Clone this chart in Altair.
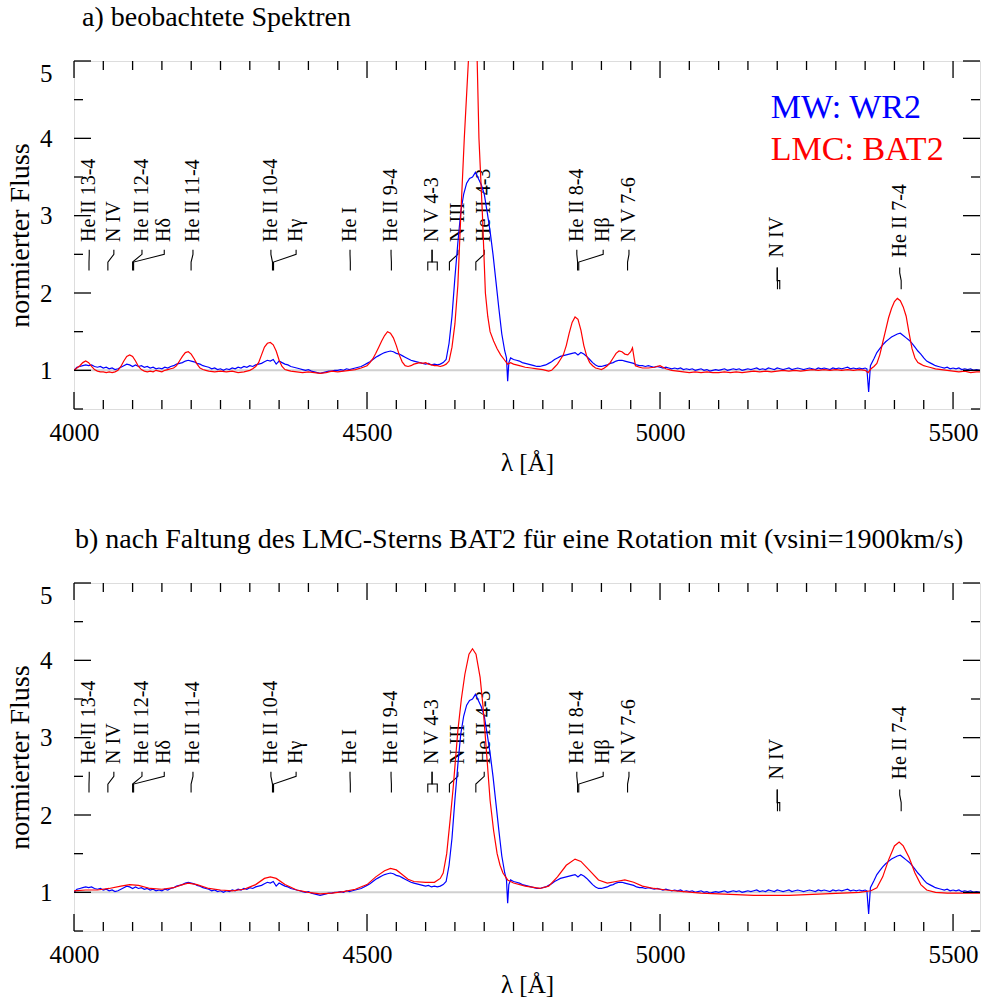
import altair as alt
import pandas as pd

SERIF = "Liberation Serif"
PLOT_W, PLOT_H = 906, 348
WL_RANGE = [4000, 5546]
FLUX_RANGE = [0.5, 5.0]

# ---------------------------------------------------------------- spectra
# MW: WR2, normalised flux (wavelength in Angstrom, flux)
wr2 = [
    (4000, 1.00), (4005, 1.04), (4010, 1.05), (4015, 1.06), (4020, 1.07), (4025, 1.06),
    (4030, 1.07), (4035, 1.05), (4040, 1.04), (4045, 1.05), (4050, 1.03), (4055, 1.04),
    (4060, 1.02), (4065, 1.03), (4070, 1.01), (4075, 1.02), (4080, 1.04), (4085, 1.06),
    (4090, 1.08), (4095, 1.07), (4100, 1.05), (4105, 1.07), (4110, 1.05), (4115, 1.06),
    (4120, 1.04), (4125, 1.05), (4130, 1.03), (4135, 1.04), (4140, 1.02), (4145, 1.03),
    (4150, 1.02), (4155, 1.04), (4160, 1.03), (4165, 1.05), (4170, 1.06), (4175, 1.08),
    (4180, 1.09), (4185, 1.10), (4190, 1.12), (4195, 1.13), (4200, 1.12), (4205, 1.11),
    (4210, 1.09), (4215, 1.08), (4220, 1.06), (4225, 1.05), (4230, 1.04), (4235, 1.02),
    (4240, 1.03), (4245, 1.01), (4250, 1.02), (4255, 1.00), (4260, 1.02), (4265, 1.01),
    (4270, 1.03), (4275, 1.02), (4280, 1.04), (4285, 1.03), (4290, 1.05), (4295, 1.04),
    (4300, 1.06), (4305, 1.05), (4310, 1.07), (4315, 1.08), (4320, 1.09), (4325, 1.11),
    (4330, 1.13), (4335, 1.12), (4340, 1.14), (4345, 1.08), (4350, 1.12), (4355, 1.10),
    (4360, 1.08), (4365, 1.07), (4370, 1.05), (4375, 1.04), (4380, 1.03), (4385, 1.02),
    (4390, 1.01), (4395, 1.00), (4400, 1.01), (4405, 0.99), (4410, 0.98), (4415, 0.97),
    (4420, 0.96), (4425, 0.97), (4430, 0.98), (4435, 0.99), (4440, 0.99), (4445, 1.00),
    (4450, 1.00), (4455, 1.01), (4460, 1.00), (4465, 1.02), (4470, 1.01), (4475, 1.02),
    (4480, 1.03), (4485, 1.04), (4490, 1.05), (4495, 1.07), (4500, 1.09), (4505, 1.11),
    (4510, 1.14), (4515, 1.17), (4520, 1.19), (4525, 1.21), (4530, 1.23), (4535, 1.24),
    (4540, 1.25), (4545, 1.24), (4550, 1.22), (4555, 1.21), (4560, 1.19), (4565, 1.17),
    (4570, 1.15), (4575, 1.13), (4580, 1.12), (4585, 1.11), (4590, 1.10), (4595, 1.09),
    (4600, 1.08), (4605, 1.09), (4610, 1.07), (4615, 1.08), (4620, 1.07), (4625, 1.08),
    (4630, 1.10), (4635, 1.14), (4640, 1.35), (4645, 1.70), (4650, 2.20), (4655, 2.65),
    (4660, 3.05), (4665, 3.28), (4670, 3.42), (4675, 3.48), (4680, 3.50), (4685, 3.56),
    (4690, 3.48), (4695, 3.40), (4700, 3.28), (4705, 3.05), (4710, 2.80), (4715, 2.50),
    (4720, 2.15), (4725, 1.80), (4730, 1.47), (4735, 1.25), (4738, 1.16), (4740, 0.86),
    (4742, 1.10), (4745, 1.16), (4750, 1.14), (4755, 1.13), (4760, 1.12), (4765, 1.10),
    (4770, 1.09), (4775, 1.08), (4780, 1.07), (4785, 1.06), (4790, 1.05), (4795, 1.05),
    (4800, 1.06), (4805, 1.07), (4810, 1.09), (4815, 1.11), (4820, 1.14), (4825, 1.16),
    (4830, 1.18), (4835, 1.19), (4840, 1.20), (4845, 1.21), (4850, 1.22), (4855, 1.23),
    (4860, 1.20), (4865, 1.23), (4870, 1.21), (4875, 1.18), (4880, 1.14), (4885, 1.10),
    (4890, 1.07), (4895, 1.05), (4900, 1.05), (4905, 1.06), (4910, 1.07), (4915, 1.09),
    (4920, 1.10), (4925, 1.12), (4930, 1.13), (4935, 1.13), (4940, 1.12), (4945, 1.11),
    (4950, 1.10), (4955, 1.09), (4960, 1.07), (4965, 1.06), (4970, 1.06), (4975, 1.05),
    (4980, 1.06), (4985, 1.05), (4990, 1.04), (4995, 1.05), (5000, 1.04), (5005, 1.03),
    (5010, 1.04), (5015, 1.03), (5020, 1.02), (5025, 1.03), (5030, 1.02), (5035, 1.03),
    (5040, 1.01), (5045, 1.02), (5050, 1.01), (5055, 1.02), (5060, 1.00), (5065, 1.01),
    (5070, 1.02), (5075, 1.00), (5080, 1.01), (5085, 0.99), (5090, 1.00), (5095, 1.01),
    (5100, 1.00), (5105, 1.01), (5110, 1.02), (5115, 1.00), (5120, 1.01), (5125, 1.02),
    (5130, 1.01), (5135, 1.02), (5140, 1.00), (5145, 1.01), (5150, 1.02), (5155, 1.01),
    (5160, 1.02), (5165, 1.03), (5170, 1.01), (5175, 1.02), (5180, 1.01), (5185, 1.03),
    (5190, 1.02), (5195, 1.01), (5200, 1.03), (5205, 1.02), (5210, 1.01), (5215, 1.02),
    (5220, 1.03), (5225, 1.01), (5230, 1.02), (5235, 1.03), (5240, 1.02), (5245, 1.01),
    (5250, 1.02), (5255, 1.03), (5260, 1.02), (5265, 1.01), (5270, 1.03), (5275, 1.02),
    (5280, 1.03), (5285, 1.02), (5290, 1.01), (5295, 1.03), (5300, 1.02), (5305, 1.03),
    (5310, 1.02), (5315, 1.03), (5320, 1.04), (5325, 1.02), (5330, 1.03), (5335, 1.02),
    (5340, 1.03), (5345, 1.02), (5350, 1.03), (5353, 1.02), (5356, 0.72), (5359, 1.06),
    (5365, 1.15), (5370, 1.23), (5375, 1.28), (5380, 1.33), (5385, 1.37), (5390, 1.40),
    (5395, 1.43), (5400, 1.45), (5405, 1.47), (5410, 1.48), (5415, 1.45), (5420, 1.42),
    (5425, 1.39), (5430, 1.35), (5435, 1.30), (5440, 1.25), (5445, 1.21), (5450, 1.16),
    (5455, 1.12), (5460, 1.10), (5465, 1.08), (5470, 1.06), (5475, 1.05), (5480, 1.04),
    (5485, 1.03), (5490, 1.04), (5495, 1.02), (5500, 1.03), (5505, 1.02), (5510, 1.03),
    (5515, 1.01), (5520, 1.02), (5525, 1.01), (5530, 1.02), (5535, 1.00), (5540, 1.01),
    (5546, 1.00),
]

# LMC: BAT2, observed
bat2 = [
    (4000, 1.00), (4005, 1.03), (4010, 1.06), (4015, 1.10), (4020, 1.12), (4025, 1.10),
    (4030, 1.05), (4035, 1.01), (4040, 0.99), (4045, 0.98), (4050, 0.98), (4055, 0.97),
    (4060, 0.98), (4065, 0.97), (4070, 0.98), (4075, 1.00), (4080, 1.05), (4085, 1.12),
    (4090, 1.18), (4095, 1.20), (4100, 1.18), (4105, 1.12), (4110, 1.05), (4115, 1.01),
    (4120, 0.99), (4125, 0.98), (4130, 0.99), (4135, 0.98), (4140, 1.00), (4145, 0.99),
    (4150, 0.98), (4155, 1.00), (4160, 1.01), (4165, 1.02), (4170, 1.03), (4175, 1.06),
    (4180, 1.12), (4185, 1.18), (4190, 1.23), (4195, 1.24), (4200, 1.21), (4205, 1.15),
    (4210, 1.08), (4215, 1.03), (4220, 1.01), (4225, 1.00), (4230, 0.99), (4240, 0.98),
    (4250, 0.99), (4260, 0.98), (4270, 0.99), (4280, 0.97), (4290, 0.98), (4300, 1.00),
    (4305, 1.02), (4310, 1.05), (4315, 1.10), (4320, 1.20), (4325, 1.30), (4330, 1.35),
    (4335, 1.36), (4340, 1.33), (4345, 1.25), (4350, 1.13), (4355, 1.05), (4360, 1.01),
    (4365, 1.00), (4370, 0.99), (4380, 0.98), (4390, 0.97), (4400, 0.98), (4410, 0.97),
    (4420, 0.96), (4430, 0.97), (4440, 0.99), (4450, 0.98), (4460, 0.99), (4470, 1.00),
    (4480, 1.01), (4490, 1.03), (4500, 1.06), (4505, 1.10), (4510, 1.15), (4515, 1.22),
    (4520, 1.30), (4525, 1.38), (4530, 1.45), (4535, 1.50), (4540, 1.48), (4545, 1.42),
    (4550, 1.32), (4555, 1.20), (4560, 1.11), (4565, 1.06), (4570, 1.05), (4575, 1.06),
    (4580, 1.08), (4585, 1.09), (4590, 1.10), (4595, 1.09), (4600, 1.10), (4605, 1.08),
    (4610, 1.07), (4615, 1.06), (4620, 1.06), (4625, 1.05), (4630, 1.06), (4635, 1.08),
    (4640, 1.12), (4645, 1.30), (4650, 1.60), (4655, 2.10), (4660, 3.00), (4666, 4.00),
    (4673, 5.00), (4680, 5.60), (4688, 5.00), (4691, 4.00), (4697, 3.00), (4702, 2.00),
    (4706, 1.70), (4710, 1.50), (4716, 1.38), (4722, 1.28), (4728, 1.20), (4734, 1.14),
    (4740, 1.08), (4745, 1.10), (4750, 1.08), (4760, 1.06), (4770, 1.04), (4780, 1.03),
    (4790, 1.02), (4800, 1.01), (4805, 1.00), (4810, 0.99), (4815, 1.00), (4820, 1.04),
    (4825, 1.08), (4830, 1.14), (4835, 1.20), (4840, 1.32), (4845, 1.48), (4850, 1.62),
    (4855, 1.69), (4860, 1.66), (4865, 1.52), (4870, 1.32), (4875, 1.18), (4880, 1.10),
    (4885, 1.06), (4890, 1.03), (4895, 1.02), (4900, 1.01), (4905, 1.03), (4910, 1.06),
    (4915, 1.10), (4920, 1.16), (4925, 1.22), (4930, 1.25), (4935, 1.24), (4940, 1.21),
    (4945, 1.20), (4950, 1.24), (4953, 1.29), (4956, 1.15), (4958, 1.06), (4965, 1.04),
    (4970, 1.03), (4980, 1.03), (4990, 1.04), (5000, 1.06), (5005, 1.04), (5010, 1.02),
    (5020, 1.00), (5030, 0.99), (5040, 0.98), (5050, 0.97), (5060, 0.98), (5070, 0.97),
    (5080, 0.98), (5090, 0.97), (5100, 0.97), (5110, 0.98), (5120, 0.97), (5130, 0.98),
    (5140, 0.97), (5150, 0.98), (5160, 0.99), (5170, 0.98), (5180, 0.99), (5190, 0.98),
    (5200, 0.99), (5210, 1.00), (5220, 0.99), (5230, 1.00), (5240, 0.99), (5250, 1.00),
    (5260, 1.01), (5270, 1.00), (5280, 1.01), (5290, 1.00), (5300, 1.01), (5310, 1.00),
    (5320, 1.01), (5330, 1.00), (5340, 1.01), (5350, 1.00), (5355, 0.97), (5360, 1.02),
    (5365, 1.05), (5370, 1.09), (5375, 1.20), (5380, 1.36), (5385, 1.52), (5390, 1.68),
    (5395, 1.80), (5400, 1.89), (5405, 1.93), (5410, 1.90), (5415, 1.82), (5420, 1.70),
    (5425, 1.48), (5430, 1.28), (5435, 1.16), (5440, 1.10), (5445, 1.08), (5450, 1.06),
    (5455, 1.05), (5460, 1.04), (5470, 1.02), (5480, 1.01), (5490, 1.00), (5500, 0.99),
    (5510, 0.98), (5520, 0.99), (5530, 0.97), (5540, 0.98), (5546, 0.98),
]

# LMC: BAT2 after rotational convolution (vsini = 1900 km/s)
bat2_rot = [
    (4000, 1.02), (4020, 1.03), (4040, 1.03), (4060, 1.05), (4080, 1.08), (4095, 1.10),
    (4110, 1.09), (4130, 1.05), (4150, 1.04), (4170, 1.06), (4185, 1.10), (4195, 1.12),
    (4210, 1.10), (4230, 1.05), (4250, 1.03), (4270, 1.02), (4290, 1.04), (4310, 1.10),
    (4325, 1.18), (4335, 1.20), (4345, 1.18), (4360, 1.10), (4380, 1.03), (4400, 1.00),
    (4420, 0.98), (4440, 0.99), (4460, 1.01), (4480, 1.04), (4500, 1.10), (4515, 1.20),
    (4530, 1.28), (4540, 1.31), (4550, 1.29), (4560, 1.23), (4570, 1.17), (4580, 1.14),
    (4600, 1.13), (4615, 1.13), (4625, 1.18), (4630, 1.25), (4636, 1.50), (4642, 1.95),
    (4647, 2.35), (4655, 3.09), (4661, 3.50), (4667, 3.82), (4674, 4.08), (4680, 4.15),
    (4686, 4.08), (4693, 3.78), (4698, 3.40), (4702, 3.00), (4706, 2.60), (4710, 2.19),
    (4716, 1.80), (4722, 1.50), (4727, 1.35), (4732, 1.25), (4740, 1.16), (4750, 1.12),
    (4770, 1.08), (4795, 1.05), (4810, 1.08), (4825, 1.20), (4840, 1.35), (4855, 1.43),
    (4865, 1.40), (4880, 1.28), (4895, 1.16), (4910, 1.12), (4925, 1.14), (4940, 1.16),
    (4955, 1.13), (4970, 1.08), (4990, 1.05), (5010, 1.03), (5040, 1.01), (5070, 0.99),
    (5100, 0.98), (5130, 0.97), (5160, 0.96), (5190, 0.96), (5220, 0.96), (5250, 0.97),
    (5280, 0.98), (5310, 0.99), (5340, 1.00), (5360, 1.02), (5370, 1.06), (5380, 1.20),
    (5390, 1.42), (5400, 1.60), (5408, 1.65), (5415, 1.60), (5425, 1.45), (5435, 1.25),
    (5445, 1.10), (5455, 1.03), (5470, 1.00), (5490, 0.99), (5510, 0.99), (5530, 0.99),
    (5546, 0.99),
]

# ---------------------------------------------------------------- line identifications
id_names = ["He II 13-4", "N IV", "He II 12-4", "Hδ", "He II 11-4", "He II 10-4", "Hγ",
            "He I", "He II 9-4", "N V 4-3", "N III", "He II 4-3", "He II 8-4", "Hβ",
            "N V 7-6", "N IV", "He II 7-4"]
id_line_wl = [[4025.6], [4057.8], [4100.0], [4101.7], [4199.8], [4338.7], [4340.5],
              [4471.5], [4541.6], [4603.7, 4619.9], [4640.6], [4685.7], [4859.3], [4861.3],
              [4944.6], [5200.4, 5204.3], [5411.5]]
id_text_wl = [4026, 4068, 4116, 4154, 4203, 4336, 4379, 4471, 4541, 4611, 4655, 4700,
              4858, 4903, 4947, 5200, 5409]
id_row = [0] * 15 + [1, 1]
# flux levels of each label row: tick foot, knee, bend, tick top, text start
row_foot = [2.29, 2.05]
row_knee = [2.40, 2.16]
row_bend = [2.50, 2.26]
row_top = [2.56, 2.33]
row_text = [2.66, 2.46]

legend_txt = ["MW: WR2", "LMC: BAT2"]
legend_col = ["#0000ff", "#ff0000"]
legend_wl = [5189, 5189]
legend_flux = [4.26, 3.72]

x_major = [4000, 4500, 5000, 5500]
x_minor = [w for w in range(4050, WL_RANGE[1], 50) if w % 500]
y_major = [1, 2, 3, 4, 5]
y_minor = [0.5, 1.5, 2.5, 3.5, 4.5]
MAJOR_LEN, MINOR_LEN = 17, 9

# ---------------------------------------------------------------- tables
def spec_df(pairs):
    return pd.DataFrame(pairs, columns=["wl", "flux"])

df_wr2, df_bat2, df_rot = spec_df(wr2), spec_df(bat2), spec_df(bat2_rot)

text_rows, path_rows = [], []
for i, (name, comps, twl, row) in enumerate(zip(id_names, id_line_wl, id_text_wl, id_row)):
    text_rows.append({"wl": twl, "flux": row_text[row], "name": name})
    # multiplets are joined by a bracket, single lines bend over to their label
    bend = row_knee[row] if len(comps) > 1 else row_bend[row]
    for j, c in enumerate(comps):
        pts = [(c, row_foot[row]), (c, row_knee[row]), (twl, bend), (twl, row_top[row])]
        for k, (w, f) in enumerate(pts):
            path_rows.append({"pid": f"{i}-{j}", "seq": k, "wl": w, "flux": f})
df_text = pd.DataFrame(text_rows)
df_paths = pd.DataFrame(path_rows)
df_legend = pd.DataFrame({"wl": legend_wl, "flux": legend_flux, "txt": legend_txt, "col": legend_col})
df_xmaj = pd.DataFrame({"wl": x_major})
df_xmin = pd.DataFrame({"wl": x_minor})
df_ymaj = pd.DataFrame({"flux": y_major})
df_ymin = pd.DataFrame({"flux": y_minor})
df_unity = pd.DataFrame({"flux": [1.0]})

# ---------------------------------------------------------------- encodings
x_axis = alt.Axis(values=x_major, format="d", ticks=False, domain=False, grid=False,
                  labelFont=SERIF, labelFontSize=25, labelColor="black", labelPadding=11,
                  labelFlush=False, labelOverlap=False,
                  title="λ [Å]", titleFont=SERIF, titleFontSize=25, titleFontWeight="normal",
                  titleColor="black", titlePadding=5)
y_axis = alt.Axis(values=y_major, format="d", ticks=False, domain=False, grid=False,
                  labelFont=SERIF, labelFontSize=25, labelColor="black", labelPadding=22,
                  labelFlush=True, labelOverlap=False,
                  title="normierter Fluss", titleFont=SERIF, titleFontSize=28,
                  titleFontWeight="normal", titleColor="black", titlePadding=5)
X = alt.X("wl:Q", scale=alt.Scale(domain=WL_RANGE, nice=False, zero=False), axis=x_axis)
Y = alt.Y("flux:Q", scale=alt.Scale(domain=FLUX_RANGE, nice=False, zero=False), axis=y_axis)


def frame_ticks():
    rule = dict(color="black", strokeWidth=1.3)
    layers = []
    for df, ln in ((df_xmaj, MAJOR_LEN), (df_xmin, MINOR_LEN)):
        layers.append(alt.Chart(df).mark_rule(**rule).encode(
            x=X, y=alt.value(PLOT_H), y2=alt.value(PLOT_H - ln)))
        layers.append(alt.Chart(df).mark_rule(**rule).encode(
            x=X, y=alt.value(0), y2=alt.value(ln)))
    for df, ln in ((df_ymaj, MAJOR_LEN), (df_ymin, MINOR_LEN)):
        layers.append(alt.Chart(df).mark_rule(**rule).encode(
            y=Y, x=alt.value(0), x2=alt.value(ln)))
        layers.append(alt.Chart(df).mark_rule(**rule).encode(
            y=Y, x=alt.value(PLOT_W), x2=alt.value(PLOT_W - ln)))
    return layers


def panel(red_df, title, dx, with_legend):
    unity = alt.Chart(df_unity).mark_rule(color="#d0d0d0", strokeWidth=2).encode(y=Y)
    labels = alt.Chart(df_text).mark_text(
        angle=270, align="left", baseline="middle", font=SERIF, fontSize=20, color="black"
    ).encode(x=X, y=Y, text="name:N")
    paths = alt.Chart(df_paths).mark_line(color="black", strokeWidth=1.1).encode(
        x=X, y=Y, detail="pid:N", order="seq:Q")
    blue = alt.Chart(df_wr2).mark_line(color="#0000ff", strokeWidth=1.2, clip=True).encode(x=X, y=Y)
    red = alt.Chart(red_df).mark_line(color="#ff0000", strokeWidth=1.2, clip=True).encode(x=X, y=Y)
    layers = [unity, labels, paths, blue, red] + frame_ticks()
    if with_legend:
        layers.append(alt.Chart(df_legend).mark_text(
            align="left", baseline="alphabetic", font=SERIF, fontSize=34
        ).encode(x=X, y=Y, text="txt:N", color=alt.Color("col:N", scale=None)))
    return alt.layer(*layers).properties(
        width=PLOT_W, height=PLOT_H,
        title=alt.TitleParams(text=title, anchor="start", frame="group", dx=dx, offset=6,
                              font=SERIF, fontSize=28, fontWeight="normal", color="black",
                              baseline="alphabetic"),
    )


top = panel(df_bat2, "a) beobachtete Spektren", 8, True)
bottom = panel(df_rot, "b) nach Faltung des LMC-Sterns BAT2 für eine Rotation mit (vsini=1900km/s)", 1, False)

chart = alt.vconcat(top, bottom, spacing=174, bounds="flush").properties(
    padding={"left": 6, "top": 3, "right": 0, "bottom": 0}
).configure_view(stroke="black", strokeWidth=2).configure(background="white")

chart.save("out.html", embed_options={"renderer": "svg", "actions": False})
